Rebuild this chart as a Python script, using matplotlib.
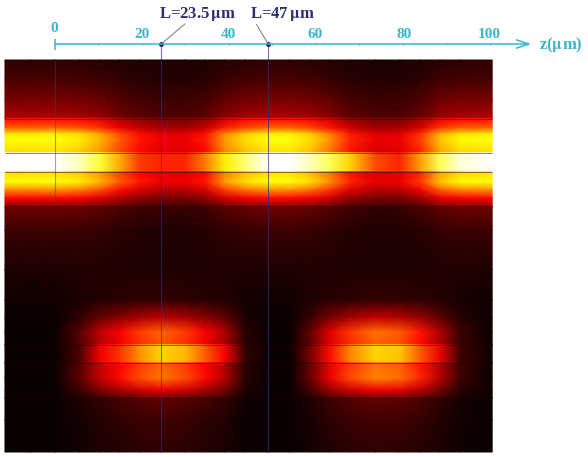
import numpy as np
import matplotlib
matplotlib.use("Agg")
import matplotlib.pyplot as plt

# z position of the columns in the field (um)
z_cols = [-11.5, -5.7, 0, 5.7, 10.3, 14.9, 19.5, 24.4, 29.9, 34.5, 39, 43.7, 49,
          54, 58.6, 63.2, 67.8, 73.6, 79.3, 83.9, 88.5, 93.1, 100.5]

# brightness along z for each band
upper_side = [.75, .75, .76, .72, .64, .50, .40, .34, .34, .40, .60, .70, .76,
              .76, .70, .58, .42, .33, .34, .45, .66, .74, .76]
upper_center = [1, 1, 1, .93, .80, .62, .45, .42, .42, .55, .72, .86, 1,
                1, .93, .83, .68, .48, .42, .60, .83, .96, 1]
lower_side = [0, 0, 0, .12, .28, .38, .48, .54, .48, .38, .26, .05, 0,
              0, .14, .34, .47, .56, .53, .42, .26, .08, 0]
lower_center = [0, 0, 0, .10, .34, .44, .58, .68, .64, .50, .36, .06, 0,
                0, .16, .38, .56, .68, .66, .50, .34, .08, 0]

# image rows (pixel height) and how much of each band shows there
y_rows = [60, 80, 100, 117.5, 118.5, 128, 134, 140, 152.5, 153, 171.5, 172, 182, 190, 198, 206.5,
          207.5, 230, 270, 300, 318, 332, 344.5, 345, 362.5, 363, 378, 390, 397.5, 398.5, 420, 452]
upper_w = [.07, .12, .22, .32, .50, .68, .95, 1, .92, 0, 0, .92, 1, .76, .50, .26,
           .20, .10, .04, .02, 0, 0, 0, 0, 0, 0, 0, 0, 0, 0, 0, 0]
center_w = [0, 0, 0, 0, 0, 0, 0, 0, 0, 1, 1, 0, 0, 0, 0, 0,
            0, 0, 0, 0, 0, 0, 0, 0, 0, 0, 0, 0, 0, 0, 0, 0]
lower_w = [0, 0, 0, 0, 0, 0, 0, 0, 0, 0, 0, 0, 0, 0, 0, 0,
           0, 0, .03, .10, .50, .95, .90, 0, 0, .95, 1, .62, .32, .24, .15, .10]
lower_center_w = [0, 0, 0, 0, 0, 0, 0, 0, 0, 0, 0, 0, 0, 0, 0, 0,
                  0, 0, 0, 0, 0, 0, 0, 1, 1, 0, 0, 0, 0, 0, 0, 0]

dark_lines = [119, 153, 172, 206, 345, 363, 398]
major_ticks = [0, 20, 40, 60, 80, 100]
tick_label_z = [-0.2, 20, 39.8, 59.8, 80.2, 99.8]
tick_label_y = [29, 35, 35, 35, 35, 35]
minor_ticks = [10, 30, 50, 70, 90]
marks = [24.4, 49]
mark_labels = ["L=23.5$\\,\\mathbf{\\mu}$m", "L=47$\\,\\mathbf{\\mu}$m"]
mark_text_z = [32.9, 52.2]

TEAL = "#3db4cf"
NAVY = "#2b2f70"

plt.rcParams["font.family"] = ["Liberation Serif", "DejaVu Serif"]
plt.rcParams["mathtext.fontset"] = "stix"


def build_field():
    field = (np.outer(upper_w, upper_side) + np.outer(center_w, upper_center)
             + np.outer(lower_w, lower_side) + np.outer(lower_center_w, lower_center))
    return np.clip(field, 0, 1)


fig = plt.figure(figsize=(5.88, 4.57), dpi=100)
ax = fig.add_axes([0, 0, 1, 1])
ax.set_xlim(-12.64, 122.53)
ax.set_ylim(457, 0)
ax.axis("off")

ax.pcolormesh(z_cols, y_rows, build_field(), cmap="hot", vmin=0, vmax=1, shading="gouraud")
ax.hlines(dark_lines, z_cols[0], z_cols[-1], color="#200000", lw=0.7, alpha=0.5)
ax.vlines([0], 60, 205, color="#444444", lw=0.8, alpha=0.5)
ax.vlines(marks, 45, 452, color="#30307a", lw=0.8, alpha=0.65)

# z axis above the image
ax.annotate("", xy=(109.5, 44), xytext=(0, 44),
            arrowprops=dict(arrowstyle="->,head_length=0.9,head_width=0.3", color=TEAL, lw=1.1,
                            shrinkA=0, shrinkB=0))
ax.vlines([0], 39, 50, color=TEAL, lw=1.1)
ax.vlines(major_ticks[1:] + minor_ticks, 43, 45, color=TEAL, lw=0.8)
for z, y, val in zip(tick_label_z, tick_label_y, major_ticks):
    ax.text(z, y, str(val), color=TEAL, fontsize=11, fontweight="bold", ha="center", va="center")
ax.text(111.2, 45, "z($\\mathbf{\\mu}$m)", color=TEAL, fontsize=12, fontweight="bold",
        ha="left", va="center")

# marked lengths
ax.plot(marks, [44, 44], "o", color="#1a1a50", ms=2.5)
for z, label, tz in zip(marks, mark_labels, mark_text_z):
    ax.annotate("", xy=(z, 44), xytext=(z + (6 if z < 30 else -3), 22),
                arrowprops=dict(arrowstyle="-", color="#777777", lw=0.7))
    ax.text(tz, 14, label, color=NAVY, fontsize=12, fontweight="bold", ha="center", va="center")

fig.savefig("out.png", dpi=100)
plt.close(fig)
